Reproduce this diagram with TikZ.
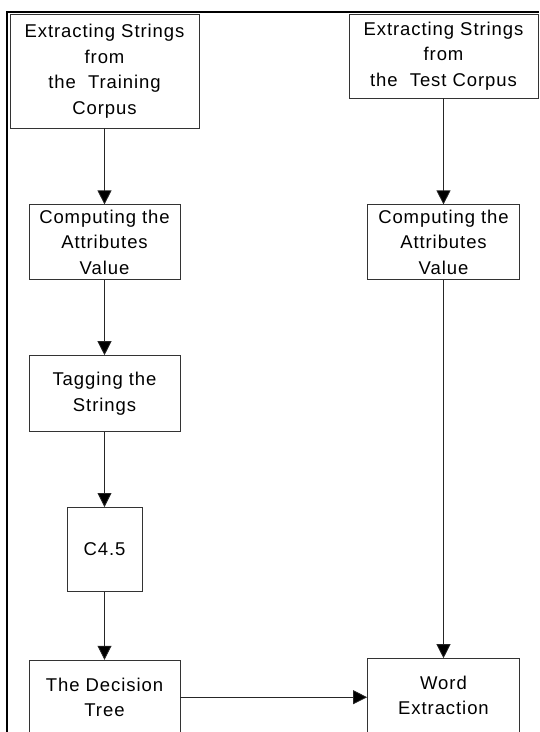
\documentclass[tikz,border=0pt]{standalone}
\usepackage{fontspec}
\setmainfont[LetterSpace=5]{Liberation Sans}
\usetikzlibrary{arrows.meta, positioning}
\tikzstyle{block} = [rectangle, draw=black!80, line width=0.8pt, align=center, inner sep=0pt, font=\fontsize{18.5}{25.5}\selectfont]
\tikzstyle{arrow} = [line width=0.8pt, draw=black!85, -{Triangle[length=14pt,width=14pt,fill=black]}]

\begin{document}
\begin{tikzpicture}[x=1pt, y=-1pt]
\useasboundingbox (0,0) rectangle (539,732);

% frame
\draw[line width=2pt] (7,732) -- (7,12) -- (539,12);

\node (train) [block, minimum width=189pt, minimum height=114pt] at (104.5,71) {Extracting Strings\\from\\the\ \ Training\\Corpus};
\node (compone) [block, minimum width=151pt, minimum height=75pt, below=76pt of train] {Computing the\\Attributes\\Value};
\node (tag) [block, minimum width=151pt, minimum height=76pt, below=75pt of compone] {Tagging the\\Strings};
\node (cfour) [block, minimum width=75pt, minimum height=84pt, below=75pt of tag] {C4.5};
\node (tree) [block, minimum width=151pt, minimum height=74pt, below=68pt of cfour] {The Decision\\Tree};

\node (test) [block, minimum width=189pt, minimum height=84pt] at (443.5,56) {Extracting Strings\\from\\the\ \ Test Corpus};
\node (comptwo) [block, minimum width=152pt, minimum height=75pt, below=106pt of test] {Computing the\\Attributes\\Value};
\node (word) [block, minimum width=152pt, minimum height=74pt, below=378pt of comptwo] {Word\\Extraction};

\draw [arrow] (train) -- (compone);
\draw [arrow] (compone) -- (tag);
\draw [arrow] (tag) -- (cfour);
\draw [arrow] (cfour) -- (tree);
\draw [arrow] (test) -- (comptwo);
\draw [arrow] (comptwo) -- (word);
\draw [arrow] (tree.east) -- (tree.east -| word.west);

\end{tikzpicture}
\end{document}
